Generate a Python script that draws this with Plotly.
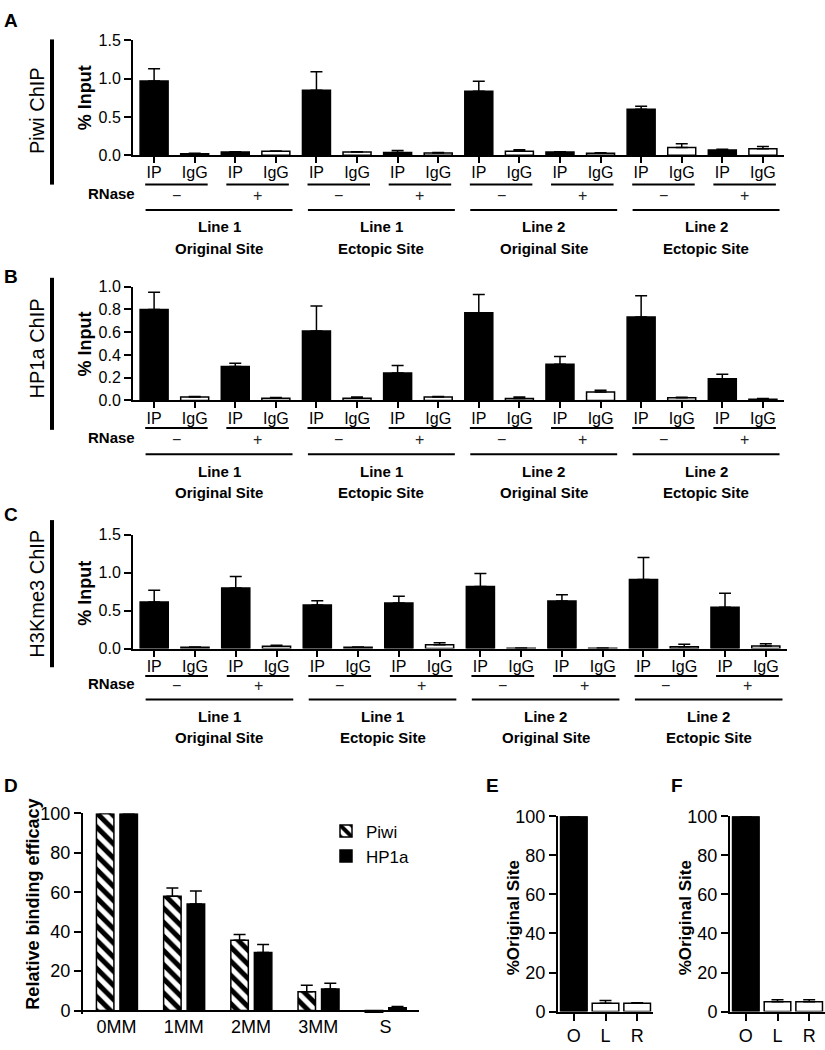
import plotly.graph_objects as go

W, H = 825, 1050
FONT = "Liberation Sans, Arial, Helvetica, sans-serif"


def px(x):
    return x / W


def py(y):
    return 1 - y / H


# ---------------- data: panels A-C ----------------
bar_labels = ["IP", "IgG"] * 8
rnase_signs = ["\u2212", "+"] * 4
line_names = ["Line 1", "Line 1", "Line 2", "Line 2"]
site_names = ["Original Site", "Ectopic Site", "Original Site", "Ectopic Site"]

piwi_mean = [0.97, 0.02, 0.04, 0.05, 0.85, 0.04, 0.035, 0.03,
             0.835, 0.05, 0.04, 0.025, 0.60, 0.10, 0.068, 0.085]
piwi_err = [0.16, 0.005, 0.006, 0.006, 0.24, 0.006, 0.025, 0.006,
            0.13, 0.02, 0.006, 0.006, 0.04, 0.05, 0.008, 0.03]

hp1a_mean = [0.80, 0.03, 0.297, 0.02, 0.61, 0.02, 0.24, 0.03,
             0.77, 0.017, 0.317, 0.074, 0.734, 0.023, 0.19, 0.011]
hp1a_err = [0.15, 0.005, 0.03, 0.005, 0.22, 0.01, 0.066, 0.005,
            0.16, 0.013, 0.07, 0.016, 0.186, 0.004, 0.04, 0.006]

h3_mean = [0.614, 0.017, 0.80, 0.03, 0.575, 0.017, 0.60, 0.05,
           0.82, 0.005, 0.627, 0.005, 0.91, 0.026, 0.545, 0.034]
h3_err = [0.156, 0.004, 0.15, 0.013, 0.055, 0.004, 0.09, 0.027,
          0.17, 0.002, 0.083, 0.002, 0.29, 0.03, 0.185, 0.03]

# ---------------- data: panel D ----------------
mm_categories = ["0MM", "1MM", "2MM", "3MM", "S"]
piwi_rel = [100, 58.0, 35.7, 9.6, -0.8]
piwi_rel_err = [0, 4.2, 2.9, 3.2, 0.3]
hp1a_rel = [100, 54.1, 29.5, 10.9, 1.4]
hp1a_rel_err = [0, 6.6, 4.0, 2.9, 0.6]

# ---------------- data: panels E, F ----------------
site_labels = ["O", "L", "R"]
e_values = [100, 4.2, 4.2]
e_err = [0, 1.5, 0.3]
f_values = [100, 5.0, 5.0]
f_err = [0, 1.0, 1.0]

fig = go.Figure()

axis_common = dict(showline=True, linecolor="black", linewidth=2,
                   ticks="outside", ticklen=7, tickwidth=2, tickcolor="black",
                   showgrid=False, zeroline=False,
                   tickfont=dict(family=FONT, size=16, color="black"))

panels = [
    dict(s="", mean=piwi_mean, err=piwi_err, ymax=1.5, dtick=0.5, y0=148, y1=31, xr=784,
         off=[30, 41, 56, 73, 95], name="Piwi ChIP", ny=103, by=(30, 178), iy=90, letter="A", ly=11),
    dict(s="2", mean=hp1a_mean, err=hp1a_err, ymax=1.0, dtick=0.2, y0=398, y1=282, xr=784,
         off=[28, 40, 55, 72, 94], name="HP1a ChIP", ny=345, by=(273, 428), iy=341, letter="B", ly=272),
    dict(s="3", mean=h3_mean, err=h3_err, ymax=1.5, dtick=0.5, y0=651, y1=535, xr=787,
         off=[28, 38, 52, 69, 91], name="H3Kme3 ChIP", ny=595, by=(520, 670), iy=595, letter="C", ly=514),
]

shapes = []
annotations = []
layout_axes = {}

for p in panels:
    s = p["s"]
    xa = "x" + s
    ya = "y" + s
    colors = ["black" if lab == "IP" else "white" for lab in bar_labels]
    fig.add_trace(go.Bar(
        x=list(range(len(bar_labels))), y=p["mean"], xaxis=xa, yaxis=ya,
        width=0.69, marker=dict(color=colors, line=dict(color="black", width=1.5)),
        error_y=dict(type="data", symmetric=False, array=p["err"],
                     arrayminus=[0] * len(p["err"]), color="black", thickness=1.5, width=6),
        showlegend=False, hoverinfo="skip"))
    nt = int(round(p["ymax"] / p["dtick"]))
    layout_axes["xaxis" + s] = dict(axis_common, domain=[px(133), px(p["xr"])], anchor=ya,
                                    range=[-0.52, 15.52], tickvals=list(range(16)),
                                    ticktext=bar_labels, ticklen=6, ticklabelstandoff=-4)
    layout_axes["yaxis" + s] = dict(axis_common, domain=[py(p["y0"]), py(p["y1"])], anchor=xa,
                                    range=[0, p["ymax"]],
                                    tickvals=[i * p["dtick"] for i in range(nt + 1)],
                                    tickformat=".1f")
    o = p["off"]
    base = p["y0"]
    for k in range(8):
        c = 2 * k + 0.55
        shapes.append(dict(type="line", xref=xa, yref="paper", x0=c - 0.77, x1=c + 0.77,
                           y0=py(base + o[0]), y1=py(base + o[0]),
                           line=dict(color="black", width=2)))
        annotations.append(dict(text=rnase_signs[k], xref=xa, yref="paper", x=c,
                                y=py(base + o[1]), showarrow=False, xanchor="center",
                                yanchor="middle", font=dict(family=FONT, size=16, color="#222")))
    for g in range(4):
        c = 4 * g + 1.6
        shapes.append(dict(type="line", xref=xa, yref="paper", x0=c - 1.81, x1=c + 1.81,
                           y0=py(base + o[2]), y1=py(base + o[2]),
                           line=dict(color="black", width=2)))
        annotations.append(dict(text="<b>%s</b>" % line_names[g], xref=xa, yref="paper", x=c,
                                y=py(base + o[3]), showarrow=False, xanchor="center",
                                yanchor="middle", font=dict(family=FONT, size=15, color="black")))
        annotations.append(dict(text="<b>%s</b>" % site_names[g], xref=xa, yref="paper", x=c,
                                y=py(base + o[4]), showarrow=False, xanchor="center",
                                yanchor="middle", font=dict(family=FONT, size=15, color="black")))
    annotations.append(dict(text="<b>RNase</b>", xref="paper", yref="paper", x=px(137),
                            y=py(base + o[1] - 2), showarrow=False, xanchor="right",
                            yanchor="middle", font=dict(family=FONT, size=15, color="black")))
    annotations.append(dict(text="<b>% Input</b>", xref="paper", yref="paper", x=px(85),
                            y=py(p["iy"]), showarrow=False, textangle=-90, xanchor="center",
                            yanchor="middle", font=dict(family=FONT, size=18, color="black")))
    annotations.append(dict(text=p["name"], xref="paper", yref="paper", x=px(37),
                            y=py(p["ny"]), showarrow=False, textangle=-90, xanchor="center",
                            yanchor="middle", font=dict(family=FONT, size=20, color="black")))
    shapes.append(dict(type="rect", xref="paper", yref="paper", x0=px(50), x1=px(54),
                       y0=py(p["by"][1]), y1=py(p["by"][0]), fillcolor="black",
                       line=dict(width=0)))
    annotations.append(dict(text="<b>%s</b>" % p["letter"], xref="paper", yref="paper",
                            x=px(2), y=py(p["ly"]), showarrow=False, xanchor="left",
                            yanchor="middle", font=dict(family=FONT, size=19, color="black")))

# ---------------- panel D ----------------
fig.add_trace(go.Bar(
    x=mm_categories, y=piwi_rel, xaxis="x4", yaxis="y4", name="Piwi",
    width=0.26, offset=-0.3,
    marker=dict(color="white", line=dict(color="black", width=1.5),
                pattern=dict(shape="\\", fgcolor="black", bgcolor="white",
                             size=10, solidity=0.5, fgopacity=1)),
    error_y=dict(type="data", symmetric=False, array=piwi_rel_err,
                 arrayminus=[0] * 5, color="black", thickness=1.5, width=6),
    hoverinfo="skip"))
fig.add_trace(go.Bar(
    x=mm_categories, y=hp1a_rel, xaxis="x4", yaxis="y4", name="HP1a",
    width=0.26, offset=0.05,
    marker=dict(color="black", line=dict(color="black", width=1.5)),
    error_y=dict(type="data", symmetric=False, array=hp1a_rel_err,
                 arrayminus=[0] * 5, color="black", thickness=1.5, width=6),
    hoverinfo="skip"))

big_tick = dict(family=FONT, size=18, color="black")
layout_axes["xaxis4"] = dict(axis_common, domain=[px(83), px(419)], anchor="y4",
                             range=[-0.5, 4.5], ticks="", showline=False,
                             tickfont=big_tick)
layout_axes["yaxis4"] = dict(axis_common, domain=[py(1024), py(819)], anchor="x4",
                             range=[-2, 100], tickvals=[0, 20, 40, 60, 80, 100],
                             zeroline=True, zerolinecolor="black", zerolinewidth=2,
                             tickfont=big_tick)
annotations.append(dict(text="<b>Relative binding efficacy</b>", xref="paper", yref="paper",
                        x=px(33), y=py(912), showarrow=False, textangle=-90,
                        xanchor="center", yanchor="middle",
                        font=dict(family=FONT, size=18, color="black")))
annotations.append(dict(text="<b>D</b>", xref="paper", yref="paper", x=px(2), y=py(791),
                        showarrow=False, xanchor="left", yanchor="middle",
                        font=dict(family=FONT, size=19, color="black")))

# ---------------- panels E, F ----------------
for s, vals, errs, x0, tx, letter, lx in [("5", e_values, e_err, 558, 513, "E", 484),
                                          ("6", f_values, f_err, 730, 685, "F", 669)]:
    colors = ["black", "white", "white"]
    fig.add_trace(go.Bar(
        x=list(range(3)), y=vals, xaxis="x" + s, yaxis="y" + s, width=0.84,
        marker=dict(color=colors, line=dict(color="black", width=1.5)),
        error_y=dict(type="data", symmetric=False, array=errs, arrayminus=[0] * 3,
                     color="black", thickness=1.5, width=6),
        showlegend=False, hoverinfo="skip"))
    layout_axes["xaxis" + s] = dict(axis_common, domain=[px(x0), min(1.0, px(x0 + 95))],
                                    anchor="y" + s, range=[-0.5, 2.5],
                                    tickvals=[0, 1, 2], ticktext=site_labels,
                                    tickfont=big_tick)
    layout_axes["yaxis" + s] = dict(axis_common, domain=[py(1021), py(822)], anchor="x" + s,
                                    range=[0, 100], tickvals=[0, 20, 40, 60, 80, 100],
                                    tickfont=big_tick)
    annotations.append(dict(text="<b>%Original Site</b>", xref="paper", yref="paper",
                            x=px(tx), y=py(926), showarrow=False, textangle=-90,
                            xanchor="center", yanchor="middle",
                            font=dict(family=FONT, size=17, color="black")))
    annotations.append(dict(text="<b>%s</b>" % letter, xref="paper", yref="paper",
                            x=px(lx), y=py(791), showarrow=False, xanchor="left",
                            yanchor="middle", font=dict(family=FONT, size=19, color="black")))

fig.update_layout(
    width=W, height=H,
    margin=dict(l=0, r=0, t=0, b=0),
    paper_bgcolor="white", plot_bgcolor="white",
    barmode="overlay",
    font=dict(family=FONT, color="black"),
    showlegend=True,
    legend=dict(x=px(326), y=py(819), xanchor="left", yanchor="top",
                bgcolor="rgba(0,0,0,0)", font=dict(family=FONT, size=17, color="black"),
                itemwidth=30, tracegroupgap=0),
    shapes=shapes,
    annotations=annotations,
    **layout_axes,
)

fig.write_html(
    "out.html",
    config={"displayModeBar": False},
    post_script="document.body.style.margin='0px';document.documentElement.style.overflow='hidden';document.body.style.overflow='hidden';",
)
